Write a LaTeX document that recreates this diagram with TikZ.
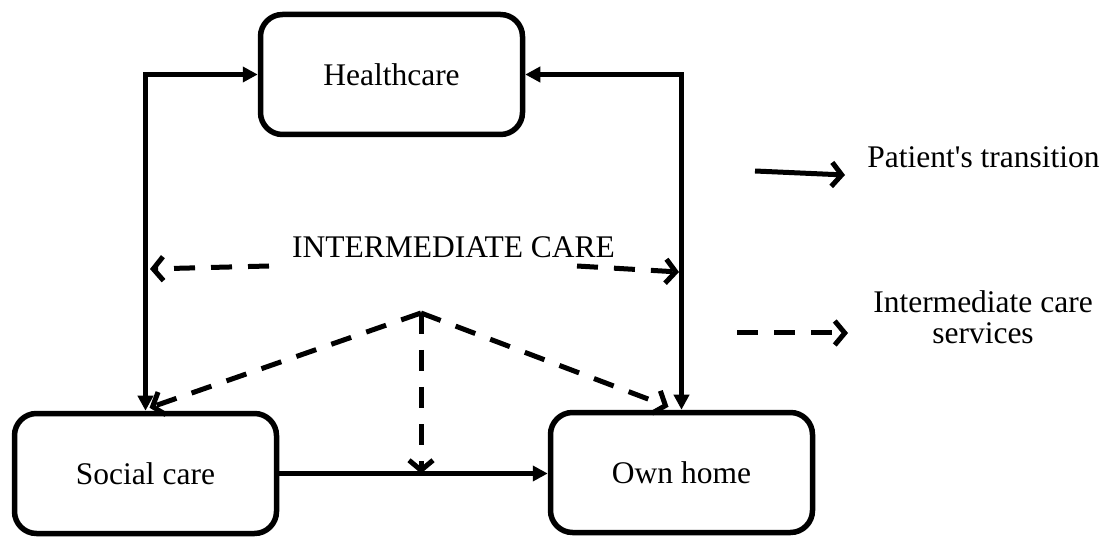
\documentclass[tikz,border=0pt]{standalone}
\usepackage{fontspec}
\setmainfont{Liberation Serif}[Ligatures=TeXOff]
\usetikzlibrary{arrows.meta,calc}
\begin{document}
\begin{tikzpicture}[x=1pt,y=-1pt,
  box/.style={draw, line width=5.5pt, rounded corners=22pt, minimum width=262pt, minimum height=120pt, inner sep=0pt, font=\fontsize{31.5}{31.5}\selectfont},
  lbl/.style={inner sep=0pt, font=\fontsize{31.5}{31}\selectfont, align=center},
  trans/.style={line width=4.8pt, -{Triangle[length=15pt,width=15pt]}},
  transboth/.style={line width=4.8pt, {Triangle[length=15pt,width=15pt]}-{Triangle[length=15pt,width=15pt]}},
  serv/.style={line width=5pt, dash pattern=on 21pt off 16pt, -{Straight Barb[length=10pt,width=24pt,line width=5pt]}},
  legtrans/.style={line width=5pt, -{Straight Barb[length=10pt,width=24pt,line width=5pt]}}
]
\useasboundingbox (0,0) rectangle (1117,537);
\node[box] (hc) at (391.5,74.5) {Healthcare};
\node[box] (sc) at (145.5,473.5) {Social care};
\node[box] (oh) at (681.5,472.5) {Own home};
\node[lbl] (ic) at (453.5,247) {INTERMEDIATE CARE};
\node[lbl] (lt) at (983.5,157) {Patient's transition};
\node[lbl] (ls) at (983,317) {Intermediate care\\services};

\coordinate (ap) at (421,313);
\coordinate (dl) at (269,266);
\coordinate (dlt) at (150,269);
\coordinate (dr) at (577,266);
\coordinate (drt) at (679,272);
\coordinate (l1a) at (755,171);
\coordinate (l1b) at (845,175);
\coordinate (l2a) at (737,333);
\coordinate (l2b) at (848,333);

\draw[transboth] (sc.north) |- (hc.west);
\draw[transboth] (oh.north) |- (hc.east);
\draw[trans] (sc.east) -- (sc.east -| oh.west);

\draw[serv] (ap) -- ($(sc.north)+(4,-3)$);
\draw[serv] (ap) -- ($(oh.north)+(-13,-3)$);
\draw[serv] (ap) -- (ap |- sc.east);
\draw[serv] (dl) -- (dlt);
\draw[serv] (dr) -- (drt);

\draw[legtrans] (l1a) -- (l1b);
\draw[serv] (l2a) -- (l2b);
\end{tikzpicture}
\end{document}
